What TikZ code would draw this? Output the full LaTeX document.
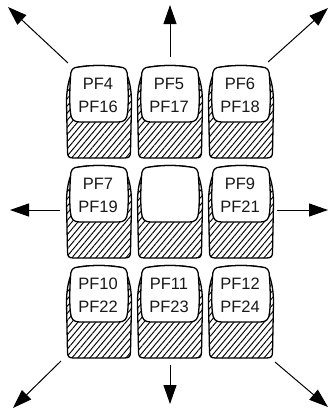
\documentclass[tikz,border=0pt]{standalone}
\usepackage{fontspec}
\setmainfont{Liberation Sans}
\usetikzlibrary{arrows.meta,patterns.meta}

\begin{document}
\begin{tikzpicture}[x=1pt,y=-1pt,
  keyline/.style={line width=1.3pt,black,line join=round},
  hatch/.style={pattern={Lines[angle=50,distance=4.6pt,line width=0.95pt]}},
  move/.style={line width=1pt,-{Triangle[length=19pt,width=13pt]}},
  keytext/.style={align=center,font={\fontsize{16.5}{23}\selectfont},text=black!90,inner sep=0pt}]
 \useasboundingbox (0,0) rectangle (329,415);
 \def\hw{31.5} % half width of a key
 \def\fw{27.5} % half width of the key top
 \def\kh{91}   % key height
 \def\fh{55}   % key top height

 % the nine keys (the middle one has no label)
 \foreach \cx/\top/\lbl [count=\i] in {99/67/{PF4\\PF16},170/67/{PF5\\PF17},241/67/{PF6\\PF18},
                                     99/167/{PF7\\PF19},170/167/{},241/167/{PF9\\PF21},
                                     99/267/{PF10\\PF22},170/267/{PF11\\PF23},241/267/{PF12\\PF24}}
 {
  \begin{scope}[shift={(\cx,\top)}]
   % body with hatched sides
   \draw[keyline,hatch] (-20,0) .. controls (-7,-2) and (7,-2) .. (20,0)
     .. controls (27,0.5) and (\hw+1,15) .. (\hw+1,36) -- (\hw,\kh-6)
     .. controls (\hw,\kh-1.5) and (\hw-1.5,\kh) .. (\hw-6,\kh) -- (-\hw+6,\kh)
     .. controls (-\hw+1.5,\kh) and (-\hw,\kh-1.5) .. (-\hw,\kh-6) -- (-\hw-1,36)
     .. controls (-\hw-1,15) and (-27,0.5) .. (-20,0) -- cycle;
   % the white top of the key
   \draw[keyline,fill=white] (-20,0) .. controls (-7,-2) and (7,-2) .. (20,0)
     .. controls (\fw-1,0) and (\fw+1,3) .. (\fw+1,10)
     .. controls (\fw+2,25) and (\fw+2,38) .. (\fw+1,46)
     .. controls (\fw+0.5,52) and (\fw-2,\fh) .. (\fw-8,\fh) -- (-\fw+8,\fh)
     .. controls (-\fw+2,\fh) and (-\fw-0.5,52) .. (-\fw-1,46)
     .. controls (-\fw-2,38) and (-\fw-2,25) .. (-\fw-1,10)
     .. controls (-\fw-1,3) and (-\fw+1,0) .. (-20,0) -- cycle;
   \node[keytext] (key\i) at (-1,\fh/2+0.5) {\lbl};
  \end{scope}
 }

 % arrows pointing away from the keypad
 \foreach \name/\sx/\sy/\ex/\ey in {nw/68/63/8/7, n/170/57/170/5, ne/268/62/328/8,
                                   w/60/210/10/210, e/277/210/328/210,
                                   sw/61/361/13/408, s/170/365/170/404, se/275/362/328/407}
 {
  \coordinate (\name-from) at (\sx,\sy);
  \coordinate (\name-to) at (\ex,\ey);
  \draw[move] (\name-from) -- (\name-to);
 }
\end{tikzpicture}
\end{document}
